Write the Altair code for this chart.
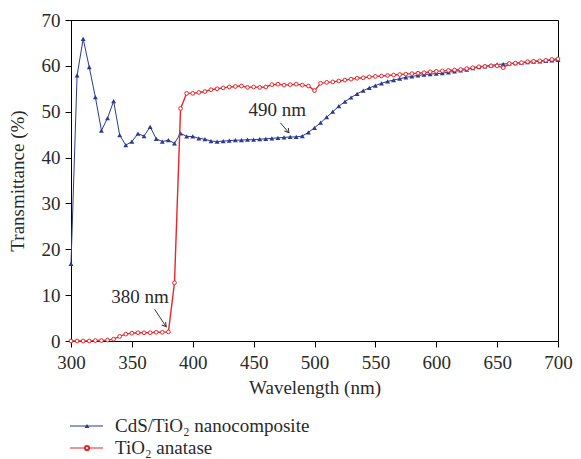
import altair as alt
import pandas as pd

wavelength = list(range(300, 701, 5))

cds_tio2 = [16.8, 57.9, 65.9, 59.7, 53.2, 45.9, 48.6, 52.3, 44.9, 42.7,
            43.5, 45.2, 44.7, 46.7, 44.1, 43.5, 43.8, 43.1, 45.3, 44.6,
            44.6, 44.2, 44.0, 43.6, 43.5, 43.6, 43.7, 43.8, 43.8, 43.9,
            43.9, 44.0, 44.1, 44.2, 44.3, 44.4, 44.5, 44.5, 44.7, 45.5,
            46.5, 47.6, 48.8, 50.0, 51.2, 52.2, 53.1, 53.9, 54.6, 55.2,
            55.7, 56.2, 56.6, 56.9, 57.2, 57.5, 57.7, 57.9, 58.1, 58.2,
            58.3, 58.4, 58.6, 58.8, 59.0, 59.2, 59.5, 59.7, 59.9, 60.1,
            60.3, 60.4, 60.5, 60.6, 60.7, 60.8, 60.9, 61.0, 61.1, 61.2,
            61.3]

tio2_anatase = [0.0, 0.0, 0.0, 0.0, 0.1, 0.1, 0.2, 0.4, 1.0, 1.5,
                1.7, 1.8, 1.8, 1.8, 1.9, 1.9, 2.0, 12.7, 50.7, 54.0,
                54.0, 54.2, 54.4, 54.8, 55.0, 55.2, 55.4, 55.5, 55.6, 55.3,
                55.4, 55.3, 55.4, 55.9, 56.0, 55.8, 55.9, 56.0, 55.8, 55.6,
                54.6, 56.2, 56.4, 56.5, 56.7, 56.9, 57.1, 57.3, 57.4, 57.6,
                57.7, 57.8, 57.9, 58.0, 58.1, 58.2, 58.3, 58.4, 58.5, 58.7,
                58.8, 58.9, 59.0, 59.1, 59.2, 59.4, 59.6, 59.8, 59.9, 60.0,
                60.0, 59.6, 60.5, 60.6, 60.7, 60.9, 61.0, 61.1, 61.2, 61.4,
                61.5]

legend_labels = ["CdS/TiO\u2082 nanocomposite", "TiO\u2082 anatase"]

annot_text = ["380 nm", "490 nm"]
annot_x = [356.6, 469.5]
annot_y = [9.6, 50.4]
arrow_x1 = [368.7, 471.9]
arrow_y1 = [6.9, 47.6]
arrow_x2 = [378.2, 479.0]
arrow_y2 = [3.1, 45.4]

BLUE = "#2b3990"
RED = "#e8262a"
FONT = "Liberation Serif"
TXT = "#2a2a2a"
FS = 19

df_b = pd.DataFrame({"wl": wavelength, "T": cds_tio2})
df_r = pd.DataFrame({"wl": wavelength, "T": tio2_anatase})
df_ann = pd.DataFrame({"text": annot_text, "x": annot_x, "y": annot_y})
df_arr = pd.DataFrame({"x": arrow_x1, "y": arrow_y1, "x2": arrow_x2, "y2": arrow_y2})

xs = alt.Scale(domain=[300, 700], nice=False)
ys = alt.Scale(domain=[0, 70], nice=False)

X = alt.X("wl:Q", scale=xs,
          axis=alt.Axis(values=list(range(300, 701, 50)), title="Wavelength (nm)",
                        titlePadding=6, labelPadding=6, tickSize=6, labelFlush=False))
Y = alt.Y("T:Q", scale=ys,
          axis=alt.Axis(values=list(range(0, 71, 10)), title="Transmittance (%)",
                        titlePadding=14, labelPadding=5, tickSize=6, labelFlush=False))

blue_line = alt.Chart(df_b).mark_line(color=BLUE, strokeWidth=1).encode(x=X, y=Y)
blue_pts = alt.Chart(df_b).mark_point(shape="triangle-up", filled=True, color=BLUE,
                                      size=24, opacity=1).encode(x="wl:Q", y="T:Q")
red_line = alt.Chart(df_r).mark_line(color=RED, strokeWidth=1.4).encode(x="wl:Q", y="T:Q")
red_pts = alt.Chart(df_r).mark_point(shape="circle", filled=False, fill="white", color=RED,
                                     size=14, strokeWidth=1, opacity=1).encode(x="wl:Q", y="T:Q")

ann = alt.Chart(df_ann).mark_text(font=FONT, fontSize=FS, color=TXT).encode(
    x="x:Q", y="y:Q", text="text:N")
arr = alt.Chart(df_arr).mark_rule(color="#333333", strokeWidth=1).encode(
    x="x:Q", y="y:Q", x2="x2:Q", y2="y2:Q")
head = alt.Chart(df_arr).mark_point(shape="M -0.6 -1 L 0 0 L 0.6 -1", filled=False,
                                    color="#333333", size=70, strokeWidth=1, angle=322,
                                    opacity=1).encode(x="x2:Q", y="y2:Q")

def legend_row(i, color, shape, filled, ypos):
    one = pd.DataFrame({"a": [0]})
    line = alt.Chart(one).mark_rule(color=color, strokeWidth=1.2).encode(
        x=alt.value(-1), x2=alt.value(32), y=alt.value(ypos))
    if filled:
        pt = alt.Chart(one).mark_point(shape=shape, filled=True, color=color,
                                       size=24, opacity=1).encode(
            x=alt.value(16), y=alt.value(ypos))
    else:
        pt = alt.Chart(one).mark_point(shape=shape, filled=False, fill="white",
                                       color=color, size=18, opacity=1).encode(
            x=alt.value(16), y=alt.value(ypos))
    txt = alt.Chart(one).mark_text(font=FONT, fontSize=FS, color=TXT,
                                   align="left", baseline="middle").encode(
        x=alt.value(44), y=alt.value(ypos), text=alt.value(legend_labels[i]))
    return line + pt + txt

leg = legend_row(0, BLUE, "triangle-up", True, 406) + legend_row(1, RED, "circle", False, 428)

chart = alt.layer(blue_line, blue_pts, red_line, red_pts, arr, head, ann, leg).properties(
    width=487, height=321,
    autosize=alt.AutoSizeParams(type="none"),
    padding={"left": 63, "top": 12, "right": 15, "bottom": 118},
).configure_view(stroke="black", strokeWidth=1).configure_axis(
    grid=False, labelFont=FONT, titleFont=FONT, labelFontSize=FS, titleFontSize=FS,
    labelColor=TXT, titleColor=TXT, titleFontWeight="normal",
    domainColor="black", tickColor="black")

chart.save("out.html", embed_options={"renderer": "svg", "actions": False})
